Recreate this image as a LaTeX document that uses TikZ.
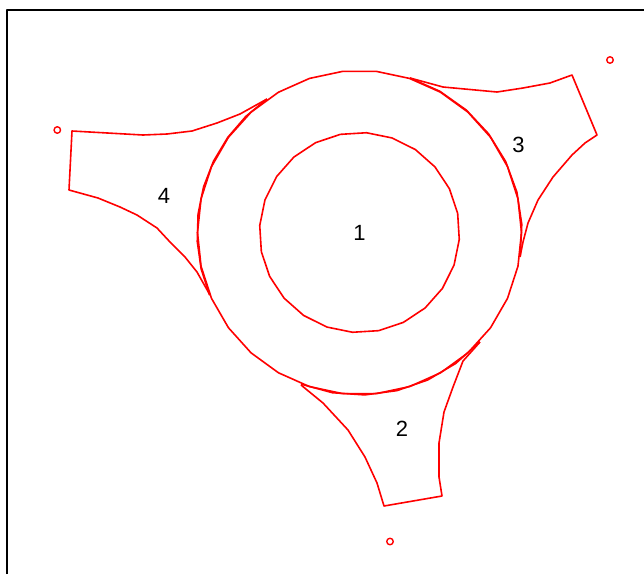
\documentclass[tikz,border=0pt]{standalone}
\usepackage{fontspec}
\setmainfont{Liberation Sans}

\begin{document}
\begin{tikzpicture}[x=1pt, y=-1pt, line join=round,
    bnd/.style={draw=red, line width=1.6pt},
    pt/.style={circle, draw=red, line width=1.4pt, inner sep=0pt, minimum size=6.5pt},
    lab/.style={font=\fontsize{22}{26}\selectfont, inner sep=0pt}]
          \useasboundingbox (0,0) rectangle (644,574);
          \draw[line width=1.9pt] (7,574) -- (7,10) -- (644,10);

          \coordinate (c) at (359.5,232.5);

          \node[lab] (r1) at (c) {1};
          \node[lab] (r2) at (402,429) {2};
          \node[lab] (r3) at (518.5,145) {3};
          \node[lab] (r4) at (164,196) {4};

          \node[pt] (p2) at (390,541.5) {};
          \node[pt] (p3) at (610,60) {};
          \node[pt] (p4) at (57.3,130) {};

          \draw[bnd, shift={(c)}] plot[samples=31, domain=0:360] ({162*cos(\x)},{162*sin(\x)});
          \draw[bnd, shift={(c)}] plot[samples=25, domain=4:364] ({100*cos(\x)},{100*sin(\x)});

          \draw[bnd] plot coordinates {(301,385) (323,403) (348,430) (365,457) (377,483) (384,506) (442,496) (439,477) (439,443) (444,412) (453,387) (463,361) (480,342)};
          \draw[bnd, shift={(c)}] plot[samples=7, domain=42.2:111.1] ({162.5*cos(\x)},{162.5*sin(\x)});

          \draw[bnd] plot coordinates {(410,78) (443,87) (497,92) (523,88) (550,83) (572,75) (597,135) (585,143) (572,155) (553,177) (538,200) (528,223) (523,242) (520,257)};
          \draw[bnd, shift={(c)}] plot[samples=8, domain=-71.9:8.6] ({162.5*cos(\x)},{162.5*sin(\x)});

          \draw[bnd] plot coordinates {(267,99) (240,114) (217,123) (192,131) (167,134) (143,135) (72,131) (69,190) (98,198) (120,207) (137,215) (157,228) (170,242) (185,257) (197,272) (210,295)};
          \draw[bnd, shift={(c)}] plot[samples=9, domain=157.3:235.3] ({162.5*cos(\x)},{162.5*sin(\x)});
        \end{tikzpicture}
\end{document}
